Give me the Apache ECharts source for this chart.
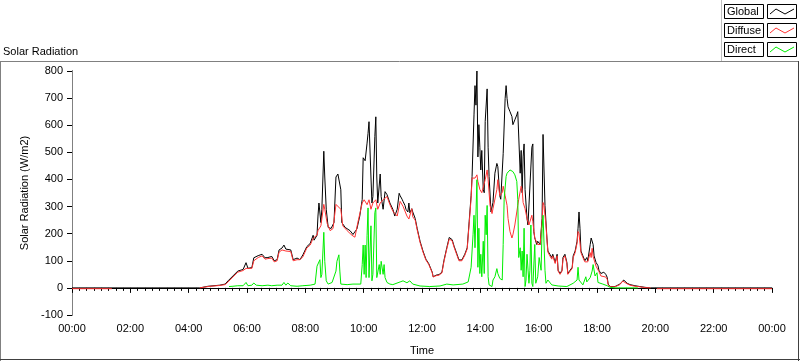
<!DOCTYPE html>
<html>
<head>
<meta charset="utf-8">
<script src="https://cdn.jsdelivr.net/npm/echarts@6/dist/echarts.min.js"></script>
<style>
html,body{margin:0;padding:0;background:#fff;}
#c{width:800px;height:361px;}
</style>
</head>
<body>
<div id="c"></div>
<script>
// Time in minutes after midnight, values in W/m2
var seriesNames = ['Global', 'Diffuse', 'Direct'];
var seriesColors = ['#000000', '#ff3333', '#00ee00'];
var yTicks = [-100, 0, 100, 200, 300, 400, 500, 600, 700, 800];
var xTickLabels = ['00:00','02:00','04:00','06:00','08:00','10:00','12:00','14:00','16:00','18:00','20:00','22:00','00:00'];

var globalData = [[0,0],[263,0],[280,6],[304,10],[315,14],[321,26],[331,44],[341,62],[352,68],[358,93],[362,72],[370,75],[374,111],[383,119],[391,124],[397,111],[403,112],[411,116],[416,100],[422,104],[426,140],[432,147],[436,158],[440,143],[444,147],[450,140],[455,104],[459,104],[463,110],[469,104],[475,122],[483,152],[490,164],[496,194],[498,176],[504,194],[506,265],[508,313],[512,241],[514,290],[518,504],[520,409],[523,290],[527,223],[533,219],[537,215],[539,241],[543,409],[547,420],[549,427],[553,362],[555,241],[562,223],[566,219],[572,211],[578,197],[582,194],[586,217],[592,265],[597,326],[599,480],[603,469],[607,534],[609,570],[611,613],[615,409],[617,313],[619,337],[623,559],[625,631],[627,409],[629,313],[634,420],[636,337],[640,290],[644,355],[648,344],[654,313],[660,290],[664,265],[669,290],[673,349],[675,340],[677,337],[679,327],[681,319],[685,304],[687,290],[689,287],[691,280],[693,313],[695,277],[699,292],[701,280],[706,256],[710,220],[716,172],[722,136],[728,106],[734,89],[741,58],[743,41],[749,47],[755,49],[761,58],[765,100],[771,148],[776,186],[782,178],[786,154],[792,124],[796,103],[802,103],[808,124],[813,148],[817,244],[821,340],[823,411],[827,638],[829,746],[831,674],[833,800],[835,483],[837,602],[839,519],[841,435],[843,507],[846,363],[848,351],[850,614],[854,734],[856,519],[858,411],[862,280],[864,280],[866,315],[870,423],[874,459],[876,447],[880,340],[882,327],[885,322],[887,495],[891,698],[893,746],[895,698],[897,668],[901,650],[905,632],[907,602],[911,620],[915,638],[917,650],[919,656],[922,423],[924,507],[926,351],[928,483],[930,531],[932,363],[936,256],[938,232],[942,232],[946,519],[948,531],[950,208],[952,184],[956,160],[958,172],[963,160],[967,256],[969,566],[971,560],[973,304],[977,184],[979,136],[983,124],[987,112],[989,124],[994,94],[998,124],[1000,65],[1004,53],[1008,65],[1010,112],[1014,124],[1018,94],[1020,53],[1024,47],[1029,76],[1031,118],[1035,136],[1039,172],[1041,220],[1043,280],[1045,220],[1047,136],[1051,118],[1055,100],[1059,112],[1061,100],[1066,160],[1068,184],[1072,160],[1074,118],[1078,94],[1082,82],[1084,65],[1088,53],[1094,58],[1098,50],[1101,39],[1103,14],[1107,5],[1117,5],[1127,14],[1135,29],[1142,17],[1148,12],[1158,8],[1168,5],[1179,2],[1190,0],[1440,0]];

var diffuseData = [[0,-3],[82,-3],[83,null],[263,0],[280,5],[304,9],[315,12],[321,22],[331,40],[341,58],[352,64],[358,72],[362,68],[370,72],[374,100],[383,112],[391,118],[397,106],[403,108],[411,110],[416,96],[422,100],[426,132],[432,140],[436,145],[440,136],[444,140],[450,134],[455,100],[459,100],[463,104],[469,104],[475,115],[483,147],[490,158],[496,183],[504,195],[506,211],[512,229],[518,308],[520,290],[525,237],[531,211],[537,219],[543,308],[547,313],[553,290],[557,229],[566,211],[576,194],[582,187],[588,241],[597,313],[601,325],[607,307],[611,325],[615,290],[619,313],[625,325],[629,290],[634,313],[640,325],[648,337],[654,307],[660,283],[669,265],[675,319],[681,301],[689,265],[693,254],[699,292],[701,262],[706,250],[710,215],[716,168],[722,132],[728,103],[734,86],[741,56],[743,40],[749,45],[755,47],[761,55],[765,96],[771,144],[776,180],[782,174],[786,150],[792,120],[796,100],[802,100],[808,120],[813,144],[817,236],[821,330],[823,405],[825,411],[829,405],[833,417],[835,393],[839,363],[843,351],[846,345],[850,399],[854,435],[856,399],[860,304],[864,274],[866,292],[874,363],[876,399],[880,340],[885,351],[887,375],[891,340],[895,304],[897,256],[901,208],[905,184],[907,196],[911,232],[915,280],[917,304],[919,327],[924,375],[926,363],[928,315],[932,292],[936,256],[940,232],[946,268],[948,244],[952,184],[958,160],[963,160],[967,244],[969,315],[971,304],[975,232],[977,178],[979,132],[983,118],[987,106],[989,118],[994,90],[998,118],[1000,62],[1004,50],[1008,62],[1010,106],[1014,118],[1018,90],[1020,50],[1024,45],[1029,72],[1031,112],[1035,130],[1039,165],[1041,208],[1043,200],[1045,200],[1047,130],[1051,112],[1055,96],[1059,94],[1061,96],[1066,130],[1068,112],[1070,146],[1072,116],[1074,110],[1078,80],[1082,76],[1084,60],[1088,44],[1090,50],[1092,44],[1098,40],[1101,32],[1103,12],[1107,4],[1117,4],[1127,12],[1133,25],[1142,15],[1148,10],[1158,6],[1168,4],[1179,1],[1190,0],[1191,null],[1203,-3],[1440,-3]];

var directData = [[323,5],[331,6],[341,8],[352,8],[358,20],[362,8],[370,10],[374,18],[379,10],[391,8],[403,10],[411,8],[422,10],[432,10],[436,20],[440,10],[444,18],[450,8],[463,6],[475,8],[490,10],[500,14],[504,80],[506,86],[508,74],[510,104],[512,38],[514,50],[518,205],[520,98],[523,26],[527,14],[535,20],[537,14],[543,62],[545,98],[549,122],[551,62],[553,14],[557,17],[566,12],[578,14],[594,14],[597,86],[599,158],[601,50],[603,158],[605,38],[607,194],[609,295],[611,38],[615,229],[617,26],[619,50],[623,277],[625,295],[627,38],[632,86],[634,50],[636,98],[640,50],[642,86],[644,38],[648,20],[654,14],[660,12],[675,22],[681,26],[689,19],[695,26],[701,14],[716,7],[736,5],[757,7],[771,14],[784,11],[804,14],[815,22],[821,76],[825,196],[827,268],[829,148],[833,399],[835,76],[837,220],[839,53],[841,124],[843,41],[846,172],[848,53],[850,268],[852,196],[854,304],[856,41],[858,11],[864,5],[866,29],[870,41],[874,71],[876,53],[880,35],[885,29],[887,160],[889,327],[893,411],[895,423],[901,435],[905,441],[907,429],[911,417],[915,393],[917,327],[919,112],[922,148],[924,65],[926,136],[928,41],[930,220],[932,5],[934,29],[936,124],[940,17],[942,65],[944,232],[946,17],[948,5],[952,160],[954,17],[958,41],[961,112],[965,65],[967,220],[969,268],[973,65],[975,17],[979,29],[987,11],[1000,7],[1018,5],[1031,17],[1039,29],[1041,76],[1043,29],[1051,11],[1057,41],[1059,22],[1066,38],[1070,62],[1072,86],[1076,44],[1080,56],[1082,20],[1086,14],[1092,14],[1101,8],[1107,2],[1117,0],[1164,0]];

var FONT = 'Liberation Sans';
var chart = echarts.init(document.getElementById('c'), null, {renderer: 'canvas'});

function legendItem(i, top) {
  return [
    {type: 'rect', shape: {x: 724.5, y: top + 0.5, width: 39, height: 14}, style: {fill: '#fff', stroke: '#000', lineWidth: 1}},
    {type: 'text', style: {x: 727, y: top + 7.5, text: seriesNames[i], fill: '#000', font: '11px ' + FONT, textVerticalAlign: 'middle'}},
    {type: 'rect', shape: {x: 767.5, y: top + 0.5, width: 29, height: 14}, style: {fill: '#fff', stroke: '#000', lineWidth: 1}},
    {type: 'polyline', shape: {points: [[770, top + 10], [776, top + 5], [785, top + 10], [794, top + 5]]}, style: {stroke: seriesColors[i], lineWidth: 1, fill: null}}
  ];
}

var graphics = [
  {type: 'line', shape: {x1: 0, y1: 61.5, x2: 799, y2: 61.5}, style: {stroke: '#808080', lineWidth: 1}},
  {type: 'line', shape: {x1: 0.5, y1: 61, x2: 0.5, y2: 361}, style: {stroke: '#808080', lineWidth: 1}},
  {type: 'line', shape: {x1: 0, y1: 359.5, x2: 800, y2: 359.5}, style: {stroke: '#404040', lineWidth: 1}},
  {type: 'line', shape: {x1: 798.5, y1: 61, x2: 798.5, y2: 361}, style: {stroke: '#404040', lineWidth: 1}},
  {type: 'rect', shape: {x: 722, y: 0, width: 78, height: 61}, style: {fill: '#fff'}},
  {type: 'line', shape: {x1: 721.5, y1: 0, x2: 721.5, y2: 61}, style: {stroke: '#c0c0c0', lineWidth: 1}},
  {type: 'text', style: {x: 3, y: 52, text: 'Solar Radiation', fill: '#000', font: '11px ' + FONT, textVerticalAlign: 'middle'}}
].concat(legendItem(0, 4), legendItem(1, 23), legendItem(2, 42));

function fmtTime(v) {
  var m = Math.round(v) % 1440;
  var h = Math.floor(m / 60), mm = m % 60;
  return (h < 10 ? '0' : '') + h + ':' + (mm < 10 ? '0' : '') + mm;
}

var option = {
  animation: false,
  backgroundColor: '#fff',
  textStyle: {fontFamily: FONT},
  grid: {left: 72, top: 71, right: 28, bottom: 39, containLabel: false},
  xAxis: [{
    type: 'value', min: 0, max: 1440, interval: 120,
    name: 'Time', nameLocation: 'middle', nameGap: 30,
    nameTextStyle: {fontSize: 11, color: '#000', fontFamily: FONT},
    axisLine: {show: true, lineStyle: {color: '#808080', width: 1}},
    axisTick: {show: true, length: 5, lineStyle: {color: '#000'}},
    minorTick: {show: true, splitNumber: 8, length: 3, lineStyle: {color: '#000'}},
    axisLabel: {margin: 8, fontSize: 11, color: '#000', fontFamily: FONT,
      formatter: function (v) { return xTickLabels[Math.round(v / 120)]; }},
    splitLine: {show: false}
  }, {
    type: 'value', position: 'top', min: 0, max: 1440,
    axisLine: {show: true, lineStyle: {color: '#000', width: 1}},
    axisTick: {show: false}, axisLabel: {show: false}, splitLine: {show: false}
  }],
  yAxis: [{
    type: 'value', min: yTicks[0], max: yTicks[yTicks.length - 1], interval: 100,
    name: 'Solar Radiation (W/m2)', nameLocation: 'middle', nameGap: 39, nameRotate: 90,
    nameTextStyle: {fontSize: 11, color: '#000', fontFamily: FONT},
    axisLine: {show: true, lineStyle: {color: '#000', width: 1}},
    axisTick: {show: true, length: 5, lineStyle: {color: '#000'}},
    axisLabel: {margin: 9, fontSize: 11, color: '#000', fontFamily: FONT},
    splitLine: {show: false}
  }, {
    type: 'value', position: 'right', min: -100, max: 800,
    axisLine: {show: true, lineStyle: {color: '#808080', width: 1}},
    axisTick: {show: false}, axisLabel: {show: false}, splitLine: {show: false}
  }],
  graphic: graphics,
  series: [
    {name: seriesNames[0], type: 'line', data: globalData, showSymbol: false, symbol: 'none', lineStyle: {color: seriesColors[0], width: 1}, itemStyle: {color: seriesColors[0]}, z: 2},
    {name: seriesNames[1], type: 'line', data: diffuseData, showSymbol: false, symbol: 'none', connectNulls: false, lineStyle: {color: seriesColors[1], width: 1}, itemStyle: {color: seriesColors[1]}, z: 3},
    {name: seriesNames[2], type: 'line', data: directData, showSymbol: false, symbol: 'none', lineStyle: {color: seriesColors[2], width: 1}, itemStyle: {color: seriesColors[2]}, z: 4}
  ]
};
chart.setOption(option);
</script>
</body>
</html>
